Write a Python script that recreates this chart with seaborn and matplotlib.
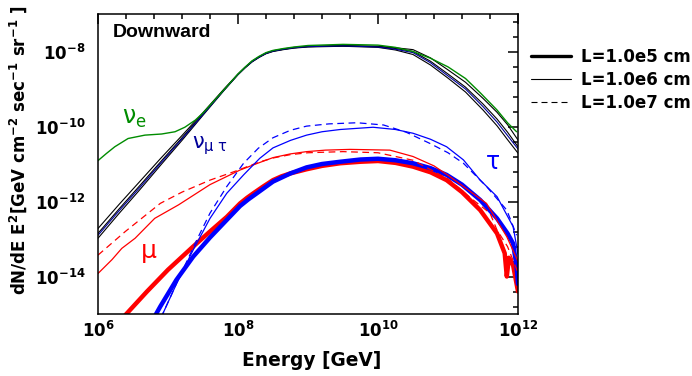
import numpy as np
import pandas as pd
import matplotlib
matplotlib.use("Agg")
import matplotlib.pyplot as plt
import seaborn as sns
from matplotlib.lines import Line2D
from matplotlib.ticker import FixedLocator

sns.set_theme(style="white")
plt.rcParams['font.family'] = ['DejaVu Sans']
plt.rcParams['mathtext.fontset'] = 'dejavusans'
plt.rcParams['text.color'] = 'black'
plt.rcParams['xtick.color'] = 'black'
plt.rcParams['ytick.color'] = 'black'
plt.rcParams['axes.labelcolor'] = 'black'

# values, as log10(E/GeV) and log10(flux)
logE_nu = [6.0, 6.3, 6.6, 6.9, 7.2, 7.5, 7.8, 8.0, 8.1, 8.2, 8.3, 8.4, 8.5, 8.65, 8.8, 9.0,
           9.5, 10.0, 10.25, 10.5, 10.75, 11.0, 11.25, 11.5, 11.7, 11.85, 12.0]
logF_nu_l5 = [-12.72, -12.08, -11.46, -10.84, -10.24, -9.63, -9.0, -8.6, -8.42, -8.26, -8.14,
              -8.04, -7.98, -7.93, -7.89, -7.86, -7.84, -7.86, -7.9, -7.95, -8.17, -8.49,
              -8.82, -9.25, -9.62, -9.95, -10.36]
logF_nu_l6 = [-12.85, -12.2, -11.57, -10.93, -10.3, -9.66, -9.02, -8.61, -8.43, -8.27, -8.15,
              -8.05, -7.99, -7.94, -7.9, -7.87, -7.85, -7.87, -7.92, -8.0, -8.26, -8.6,
              -8.95, -9.4, -9.8, -10.15, -10.54]
logF_nu_l7 = [-12.98, -12.32, -11.68, -11.02, -10.37, -9.7, -9.04, -8.62, -8.44, -8.28, -8.16,
              -8.06, -8.0, -7.95, -7.91, -7.88, -7.86, -7.89, -7.96, -8.08, -8.36, -8.71,
              -9.08, -9.56, -9.98, -10.35, -10.71]
logF_numu = [-12.9, -12.25, -11.62, -10.97, -10.33, -9.68, -9.03, -8.61, -8.43, -8.27, -8.15,
             -8.05, -7.99, -7.94, -7.9, -7.87, -7.85, -7.88, -7.94, -8.03, -8.3, -8.65,
             -9.0, -9.47, -9.88, -10.24, -10.6]

logE_nue = [6.0, 6.12, 6.24, 6.43, 6.67, 6.91, 7.1, 7.24, 7.39, 7.5, 7.8, 8.0, 8.1, 8.2, 8.3,
            8.4, 8.5, 8.65, 8.8, 9.0, 9.5, 10.0, 10.25, 10.5, 10.75, 11.0, 11.25, 11.46,
            11.7, 11.85, 11.98]
logF_nue = [-10.91, -10.72, -10.54, -10.32, -10.23, -10.2, -10.14, -10.02, -9.83, -9.64, -9.02,
            -8.6, -8.42, -8.25, -8.13, -8.03, -7.97, -7.92, -7.88, -7.84, -7.81, -7.83,
            -7.89, -8.0, -8.18, -8.41, -8.72, -9.1, -9.56, -9.9, -10.14]

logE_mu_l5 = [6.38, 6.7, 7.0, 7.36, 7.6, 7.84, 8.03, 8.13, 8.22, 8.36, 8.5, 8.62, 8.75, 8.98,
              9.2, 9.46, 9.75, 10.0, 10.25, 10.5, 10.75, 10.98, 11.2, 11.46, 11.7, 11.81,
              11.84, 11.87, 11.93, 12.0]
logF_mu_l5 = [-15.05, -14.4, -13.82, -13.2, -12.8, -12.41, -12.05, -11.9, -11.78, -11.6,
              -11.43, -11.33, -11.25, -11.14, -11.05, -10.98, -10.94, -10.92, -10.97, -11.07,
              -11.22, -11.43, -11.75, -12.23, -12.85, -13.38, -14.0, -13.5, -13.7, -14.4]
logE_mu_l6 = [6.0, 6.2, 6.34, 6.53, 6.81, 7.15, 7.6, 8.03, 8.31, 8.5, 8.75, 8.98, 9.25, 9.6,
              10.17, 10.5, 10.8, 11.0, 11.22, 11.55, 11.84, 12.0]
logF_mu_l6 = [-13.92, -13.55, -13.25, -12.98, -12.45, -12.09, -11.55, -11.16, -10.96, -10.83,
              -10.73, -10.67, -10.63, -10.61, -10.63, -10.8, -11.05, -11.3, -11.6, -12.05,
              -12.94, -13.6]
logE_mu_l7 = [6.0, 6.39, 6.89, 7.2, 7.6, 7.98, 8.3, 8.5, 8.75, 9.0, 9.5, 10.0, 10.5, 11.0,
              11.36, 11.6, 11.7, 11.85, 12.0]
logF_mu_l7 = [-13.43, -12.8, -12.05, -11.75, -11.43, -11.18, -10.95, -10.84, -10.75, -10.7,
              -10.67, -10.7, -10.9, -11.4, -11.96, -12.31, -12.76, -13.2, -13.9]

logE_tau_l5 = [6.8, 6.89, 7.12, 7.36, 7.6, 7.84, 8.03, 8.15, 8.27, 8.5, 8.75, 8.98, 9.2, 9.46,
               9.75, 10.0, 10.25, 10.5, 10.75, 10.98, 11.2, 11.46, 11.7, 11.85, 11.93, 11.98,
               12.0]
logF_tau_l5 = [-15.1, -14.8, -14.09, -13.47, -12.96, -12.49, -12.12, -11.94, -11.78, -11.47,
               -11.25, -11.09, -11.0, -10.94, -10.88, -10.86, -10.9, -10.98, -11.11, -11.29,
               -11.55, -11.96, -12.45, -12.85, -13.12, -13.74, -14.2]
logE_tau_l6 = [6.9, 7.12, 7.36, 7.6, 7.84, 8.08, 8.31, 8.5, 8.75, 8.98, 9.2, 9.46, 9.93,
               10.25, 10.5, 10.75, 10.98, 11.22, 11.46, 11.7, 11.93, 12.0]
logF_tau_l6 = [-15.1, -14.2, -13.29, -12.45, -11.78, -11.29, -10.85, -10.57, -10.37, -10.23,
               -10.14, -10.08, -10.02, -10.08, -10.18, -10.34, -10.54, -10.89, -11.43,
               -11.87, -12.67, -13.4]
logE_tau_l7 = [6.9, 7.15, 7.41, 7.6, 7.84, 8.08, 8.29, 8.5, 8.75, 8.98, 9.3, 9.7, 10.08,
               10.4, 10.74, 11.0, 11.22, 11.55, 11.84, 11.98]
logF_tau_l7 = [-15.1, -14.07, -13.03, -12.31, -11.6, -10.98, -10.58, -10.3, -10.1, -9.99,
               -9.93, -9.9, -9.96, -10.15, -10.45, -10.7, -10.98, -11.6, -12.23, -12.9]

legend_labels = ['L=1.0e5 cm', 'L=1.0e6 cm', 'L=1.0e7 cm']

GREEN = '#008c00'
RED = '#ff0000'
BLUE = '#0000ff'
NAVY = '#000099'
DASH = (0, (5.4, 3.6))

fig = plt.figure(figsize=(6.92, 3.76), dpi=100)
ax = fig.add_axes([98 / 692, 1 - 314 / 376, 420 / 692, 300 / 376])


def draw(logE, logF, color, lw, ls='-'):
    df = pd.DataFrame({'E': 10.0 ** np.array(logE), 'F': 10.0 ** np.array(logF)})
    sns.lineplot(data=df, x='E', y='F', ax=ax, color=color, lw=lw, linestyle=ls,
                 sort=False, estimator=None)


draw(logE_mu_l5, logF_mu_l5, RED, 3.2)
draw(logE_tau_l5, logF_tau_l5, BLUE, 3.2)
draw(logE_mu_l6, logF_mu_l6, RED, 0.9)
draw(logE_mu_l7, logF_mu_l7, RED, 0.9, DASH)
draw(logE_tau_l6, logF_tau_l6, BLUE, 0.9)
draw(logE_tau_l7, logF_tau_l7, BLUE, 0.9, DASH)
draw(logE_nu, logF_nu_l5, 'black', 0.8)
draw(logE_nu, logF_nu_l6, 'black', 0.8)
draw(logE_nu, logF_nu_l7, 'black', 0.8)
draw(logE_nu, logF_numu, NAVY, 0.8)
draw(logE_nue, logF_nue, GREEN, 1.0)

ax.set_xscale('log')
ax.set_yscale('log')
ax.set_xlim(1e6, 1e12)
ax.set_ylim(1e-15, 1e-7)

ax.xaxis.set_major_locator(FixedLocator([1e6, 1e8, 1e10, 1e12]))
ax.xaxis.set_minor_locator(FixedLocator(10 ** np.round(np.arange(6.4, 12.0, 0.4), 2)))
ax.yaxis.set_major_locator(FixedLocator([1e-14, 1e-12, 1e-10, 1e-8]))
ax.yaxis.set_minor_locator(FixedLocator(10 ** np.round(np.arange(-14.8, -7.0, 0.4), 2)))
ax.set_xticklabels([r'$\mathbf{10^{6}}$', r'$\mathbf{10^{8}}$', r'$\mathbf{10^{10}}$',
                    r'$\mathbf{10^{12}}$'], fontsize=12)
ax.set_yticklabels([r'$\mathbf{10^{-14}}$', r'$\mathbf{10^{-12}}$', r'$\mathbf{10^{-10}}$',
                    r'$\mathbf{10^{-8}}$'], fontsize=12)
ax.tick_params(which='both', direction='in', top=True, right=True, width=1.1, colors='black')
ax.tick_params(which='major', length=7)
ax.tick_params(which='minor', length=3.6)
ax.tick_params(axis='x', which='major', pad=5)
ax.tick_params(axis='y', which='major', pad=9)
for s in ax.spines.values():
    s.set_linewidth(1.1)
    s.set_color('black')
ax.set_xlabel('')
ax.set_ylabel('')

ax.text(0.036, 0.938, 'Downward', transform=ax.transAxes, ha='left', va='center',
        fontsize=14, fontweight='bold', family='Liberation Sans', color='black')
ax.text(0.056, 0.653, r'$\mathrm{\nu_e}$', transform=ax.transAxes, ha='left', va='center',
        fontsize=17, color=GREEN)
ax.text(0.223, 0.56, r'$\mathrm{\nu_{\mu\ \tau}}$', transform=ax.transAxes, ha='left',
        va='center', fontsize=15, color=NAVY)
ax.text(0.121, 0.203, r'$\mathrm{\mu}$', transform=ax.transAxes, ha='center', va='center',
        fontsize=18, color=RED)
ax.text(0.94, 0.508, r'$\mathrm{\tau}$', transform=ax.transAxes, ha='center', va='center',
        fontsize=17, color=BLUE)

fig.text(0.451, 0.04, 'Energy [GeV]', ha='center', va='center', fontsize=13.4,
         fontweight='bold', color='black')
fig.text(0.027, 0.601,
         r'dN/dE E$^{\mathbf{2}}$[GeV cm$^{\mathbf{-2}}$ sec$^{\mathbf{-1}}$ sr$^{\mathbf{-1}}$ ]',
         ha='center', va='center', rotation=90, fontsize=12.0, fontweight='bold',
         color='black')

handles = [Line2D([], [], color='black', lw=2.4),
           Line2D([], [], color='black', lw=0.8),
           Line2D([], [], color='black', lw=0.8, linestyle=DASH)]
fig.legend(handles, legend_labels, loc='upper left', bbox_to_anchor=(0.768, 0.872),
           frameon=False, prop={'weight': 'bold', 'size': 12}, handlelength=2.4,
           handletextpad=0.6, labelspacing=0.3, borderpad=0, borderaxespad=0)

fig.savefig('out.png', dpi=100)
